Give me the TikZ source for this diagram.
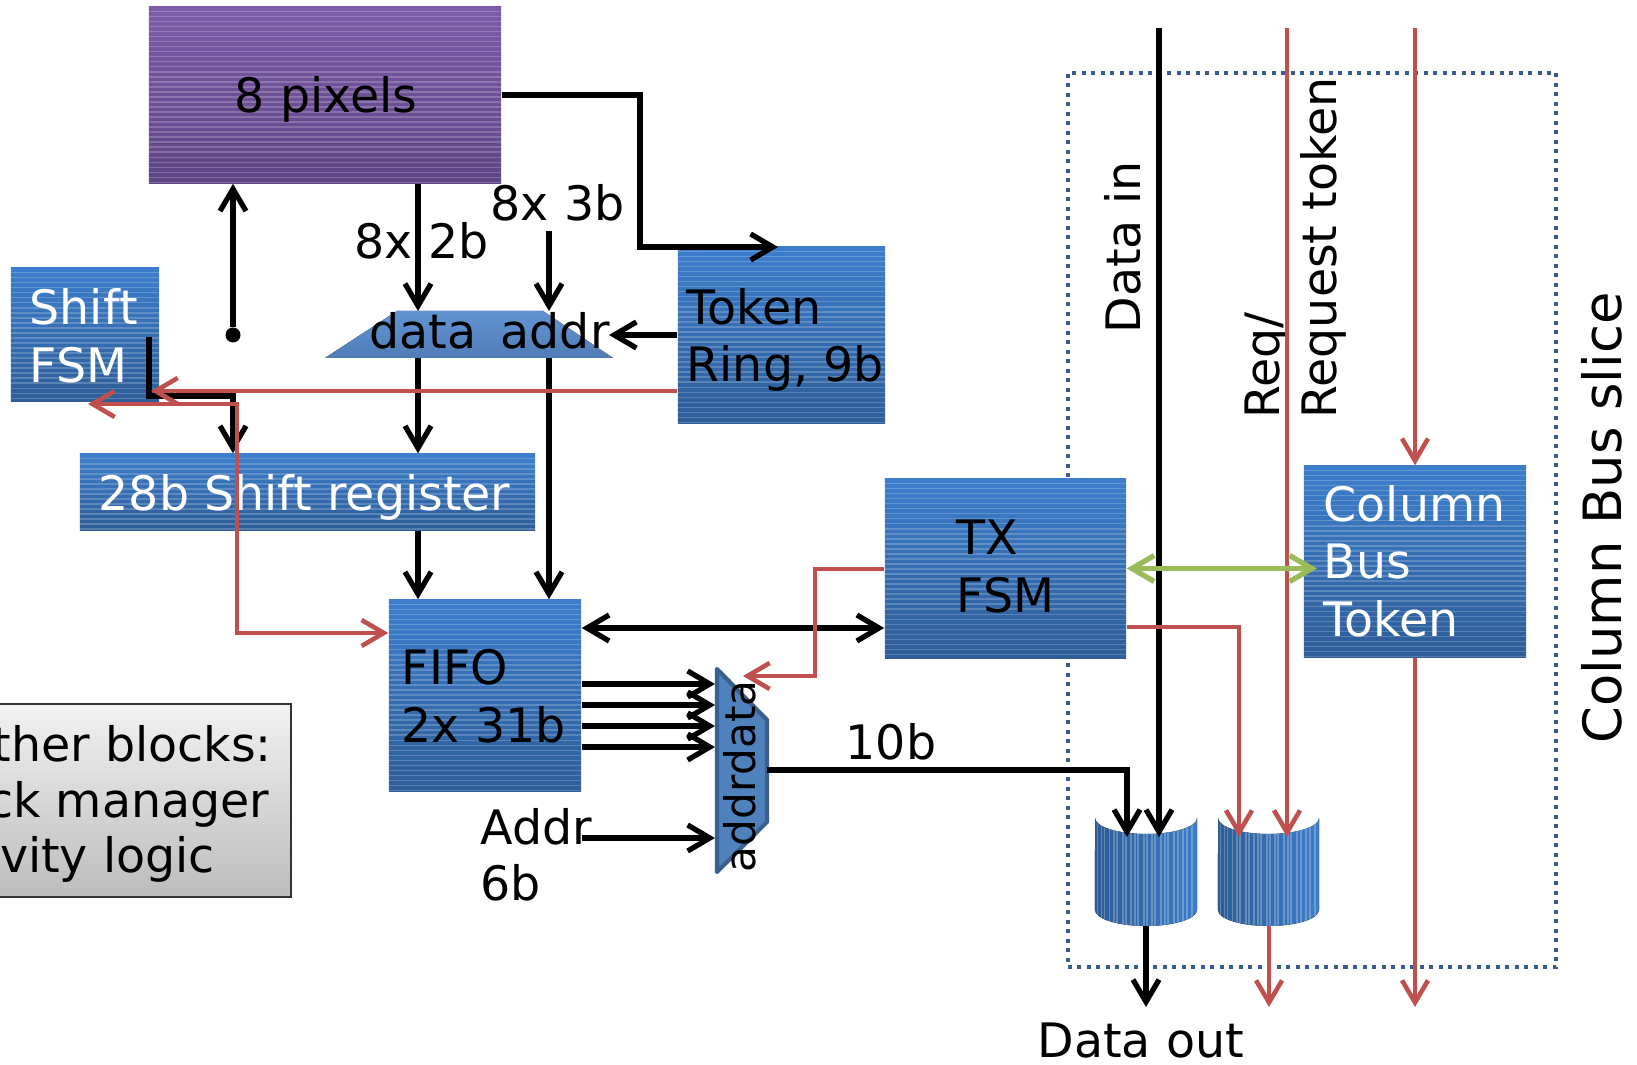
\documentclass[tikz,border=0pt]{standalone}
\usepackage{fontspec}
\setmainfont{DejaVu Sans}
\usetikzlibrary{arrows.meta}
\definecolor{bluetop}{RGB}{60,126,204}
\definecolor{bluebot}{RGB}{46,93,152}
\definecolor{purptop}{RGB}{126,92,170}
\definecolor{purpbot}{RGB}{94,68,132}
\definecolor{traptop}{RGB}{98,148,212}
\definecolor{trapbot}{RGB}{80,124,182}
\definecolor{muxfill}{RGB}{79,129,189}
\definecolor{muxedge}{RGB}{58,96,142}
\definecolor{redl}{RGB}{192,80,77}
\definecolor{greenl}{RGB}{155,187,89}
\definecolor{dotblue}{RGB}{56,93,138}
\definecolor{greytop}{RGB}{242,242,242}
\definecolor{greybot}{RGB}{188,188,188}
\definecolor{cylL}{RGB}{45,92,150}
\definecolor{cylR}{RGB}{60,125,202}
\tikzset{
  stripes/.style={path picture={\foreach \k in {0.05,0.1,...,2.5}{\draw[white,opacity=0.2,line width=0.3pt] ([yshift=-\k cm]path picture bounding box.north west) -- ([yshift=-\k cm]path picture bounding box.north east);}}},
  vstripes/.style={path picture={\foreach \k in {0.03,0.07,0.1,0.15,0.19,0.22,0.28,0.31,0.36,0.4,0.43,0.49,0.52,0.57,0.6,0.66,0.7,0.73,0.79,0.83,0.88,0.92,0.97}{\draw[white,opacity=0.25,line width=0.3pt] ([xshift=\k cm]path picture bounding box.north west) -- ([xshift=\k cm]path picture bounding box.south west);}}},
  blockbox/.style={rectangle,inner sep=0,top color=bluetop,bottom color=bluebot,stripes},
  purpbox/.style={rectangle,inner sep=0,top color=purptop,bottom color=purpbot,stripes},
  greybox/.style={rectangle,inner sep=0,top color=greytop,bottom color=greybot,draw=black!80,line width=0.8pt},
  lbl/.style={inner sep=0,anchor=base west},
  wlbl/.style={lbl,text=white},
  rlbl/.style={lbl,rotate=90},
  wire/.style={line width=1.5pt,black},
  arr/.style={wire,->},
  arrboth/.style={wire,<->},
  rwire/.style={line width=1.3pt,redl},
  rarr/.style={rwire,->},
  rboth/.style={rwire,<->},
  garr/.style={line width=1.5pt,greenl,<->},
  cylshape/.style={left color=cylL,right color=cylR,vstripes},
  dotnode/.style={circle,fill=black,inner sep=0,minimum size=0.15cm},
  sliceframe/.style={rectangle,draw=dotblue,line width=1.2pt,dash pattern=on 0.04cm off 0.055cm,inner sep=0},
  >={Straight Barb[length=6.3pt,width=7.4pt]}
}
\begin{document}
\begin{tikzpicture}[x=0.01cm,y=-0.01cm,font=\fontsize{13.5}{16.2}\selectfont]
\fill[white] (0,0) rectangle (1637,1065);
\useasboundingbox (0,0) rectangle (1637,1065);

% column bus slice frame
\node[sliceframe,minimum width=4.88cm,minimum height=8.94cm] (slice) at (1312,520) {};

% blocks
\node[purpbox,minimum width=3.52cm,minimum height=1.76cm] (pix) at (325,95) {};
\node[blockbox,minimum width=1.48cm,minimum height=1.33cm] (sfsm) at (85,334.5) {};
\node[blockbox,minimum width=2.07cm,minimum height=1.76cm] (token) at (781.5,335) {};
\node[blockbox,minimum width=4.55cm,minimum height=0.76cm] (sreg) at (307.5,492) {};
\node[blockbox,minimum width=1.92cm,minimum height=1.91cm] (fifo) at (485,695.5) {};
\node[blockbox,minimum width=2.41cm,minimum height=1.79cm] (tx) at (1005.5,568.5) {};
\node[blockbox,minimum width=2.22cm,minimum height=1.91cm] (cbt) at (1415,561.5) {};
\node[greybox,minimum width=3.01cm,minimum height=1.93cm] (other) at (140.5,800.5) {};

% data/addr trapezoid
\fill[top color=traptop,bottom color=trapbot] (325,358) -- (397,311) -- (543,311) -- (613,358) -- cycle;
\coordinate (tdT) at (418,311);
\coordinate (tdB) at (418,358);
\coordinate (taT) at (549,311);
\coordinate (taB) at (549,358);
\coordinate (taR) at (609,335);

% mux
\filldraw[fill=muxfill,draw=muxedge,line width=1.2pt,line join=round] (717,669) -- (767,720) -- (767,822) -- (717,872) -- cycle;
\coordinate (muxout) at (767,770);

% cylinders
\fill[cylshape] (1095,818) arc[start angle=180,end angle=360,x radius=0.51cm,y radius=0.16cm] -- (1197,910) arc[start angle=0,end angle=-180,x radius=0.51cm,y radius=0.16cm] -- cycle;
\fill[cylshape] (1218,818) arc[start angle=180,end angle=360,x radius=0.505cm,y radius=0.16cm] -- (1319,910) arc[start angle=0,end angle=-180,x radius=0.505cm,y radius=0.16cm] -- cycle;
\coordinate (cyl1a) at (1127,837);
\coordinate (cyl1b) at (1159,837);
\coordinate (cyl1out) at (1146,926);
\coordinate (cyl2a) at (1239,837);
\coordinate (cyl2b) at (1287,837);
\coordinate (cyl2out) at (1269,926);

% labels
\node[lbl,anchor=base] (tpix) at (326,113) {8 pixels};
\node[wlbl] (tsf1) at (29,325) {Shift};
\node[wlbl] (tsf2) at (29,383) {FSM};
\node[lbl] (ttr1) at (686,325) {Token};
\node[lbl] (ttr2) at (686,382) {Ring, 9b};
\node[wlbl] (tsreg) at (98,511) {28b Shift register};
\node[lbl] (tff1) at (401,685) {FIFO};
\node[lbl] (tff2) at (401,743) {2x 31b};
\node[lbl] (ttx1) at (956,555) {TX};
\node[lbl] (ttx2) at (956,613) {FSM};
\node[wlbl] (tcb1) at (1323,522) {Column};
\node[wlbl] (tcb2) at (1323,579) {Bus};
\node[wlbl] (tcb3) at (1323,637) {Token};
\node[lbl] (tdata) at (369,349) {data};
\node[lbl] (taddr) at (500,349) {addr};
\node[lbl] (t2b) at (354,259) {8x 2b};
\node[lbl] (t3b) at (490,221) {8x 3b};
\node[lbl] (t10b) at (845,760) {10b};
\node[lbl] (tad1) at (480,845) {Addr};
\node[lbl] (tad2) at (480,900) {6b};
\node[lbl] (tdout) at (1037,1057) {Data out};
\node[lbl,anchor=base east] (tob1) at (272.5,762) {ther blocks:};
\node[lbl,anchor=base east] (tob2) at (270,818) {ck manager};
\node[lbl,anchor=base east] (tob3) at (215.5,873) {vity logic};
\node[rlbl,font=\fontsize{12}{14}\selectfont] (tmux1) at (755,873) {addr};
\node[rlbl,font=\fontsize{12}{14}\selectfont] (tmux2) at (755,776) {data};
\node[rlbl] (tdin) at (1140,334) {Data in};
\node[rlbl] (treq1) at (1279,419) {Req/};
\node[rlbl] (treq2) at (1336,419) {Request token};
\node[rlbl,font=\fontsize{15}{18}\selectfont] (tslice) at (1621,744) {Column Bus slice};

% black connectors
\coordinate (tokin) at (778,247);
\draw[arr] (pix.east) -| (640,247) -- (tokin);
\node[dotnode] (dot) at (233,335) {};
\draw[arr] (dot) -- (dot |- pix.south);
\draw[arr] (pix.south -| tdT) -- (tdT);
\coordinate (a3) at (549,231);
\draw[arr] (a3) -- (taT);
\draw[arr] (token.west) -- (taR);
\draw[arr] (tdB) -- (tdB |- sreg.north);
\draw[arr] (taB) -- (taB |- fifo.north);
\coordinate (sfA) at (149,337);
\draw[arr] (sfA) |- (233,396) -- (dot |- sreg.north);
\draw[arr] (tdB |- sreg.south) -- (tdB |- fifo.north);
\draw[arrboth] (fifo.east |- 0,628) -- (tx.west |- 0,628);
\foreach \yy in {684,705,726,747} \draw[arr] (fifo.east |- 0,\yy) -- (715,\yy);
\coordinate (addrS) at (582,838);
\draw[arr] (addrS) -- (715,838);
\draw[arr] (muxout) -| (cyl1a);
\coordinate (dinS) at (1159,28);
\draw[arr] (dinS) -- (cyl1b);
\coordinate (dout) at (1146,1007);
\draw[arr] (cyl1out) -- (dout);

% red connectors
\draw[rarr] (token.west |- 0,391) -- (151,391);
\coordinate (sfB) at (88,404);
\draw[rboth] (sfB) -- (237,404) -- (237,633) -- (fifo.west |- 0,633);
\draw[rarr] (tx.west |- 0,569) -| (815,676) -- (743,676);
\coordinate (reqS) at (1287,28);
\draw[rarr] (reqS) -- (cyl2b);
\coordinate (tokS) at (1415,28);
\draw[rarr] (tokS) -- (cbt.north);
\draw[rarr] (tx.east |- 0,627) -| (cyl2a);
\coordinate (tokE) at (1415,1007);
\draw[rarr] (cbt.south) -- (tokE);
\coordinate (reqE) at (1269,1007);
\draw[rarr] (cyl2out) -- (reqE);

% green
\coordinate (cbtin) at (1317,568.5);
\draw[garr] (tx.east) -- (cbtin);
\end{tikzpicture}
\end{document}
